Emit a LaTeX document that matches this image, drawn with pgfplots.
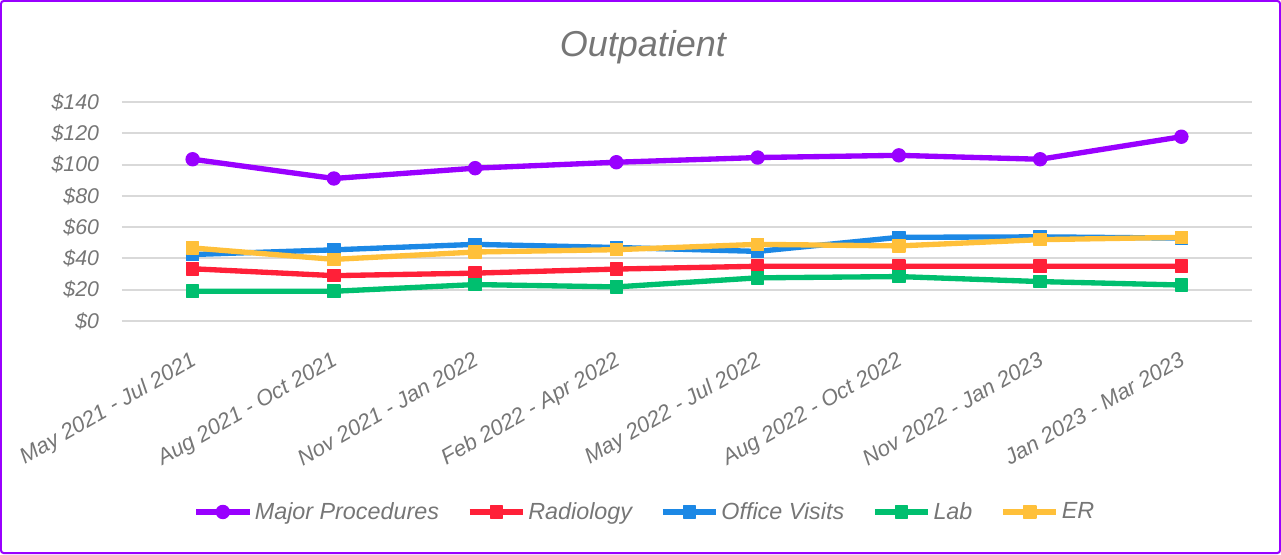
\documentclass[border=0pt]{standalone}
\usepackage{pgfplots}
\pgfplotsset{compat=1.18}
\usepackage{fontspec}
\setmainfont{Liberation Sans}
\definecolor{cMaj}{RGB}{153,0,255}
\definecolor{cRad}{RGB}{255,32,56}
\definecolor{cOff}{RGB}{28,136,229}
\definecolor{cLab}{RGB}{0,191,111}
\definecolor{cER}{RGB}{255,192,58}
\definecolor{txt}{RGB}{118,118,118}
\definecolor{grd}{RGB}{217,217,217}
\begin{document}
\begin{tikzpicture}[x=0.75pt,y=0.75pt]
\useasboundingbox (-122,-233) rectangle (1159,321);
\draw[cMaj, line width=1.5pt, rounded corners=2pt] (-121,-232) rectangle (1158,320);
\begin{axis}[
  at={(0,0)}, anchor=south west,
  scale only axis, width=847.5pt, height=164.25pt,
  xmin=-0.5, xmax=7.5, ymin=0, ymax=140,
  axis line style={draw=none},
  ymajorgrids, grid style={grd, line width=1.5pt},
  major tick length=0pt,
  ytick={0,20,...,140},
  yticklabels={{\$0},{\$20},{\$40},{\$60},{\$80},{\$100},{\$120},{\$140}},
  yticklabel style={font=\fontsize{16}{18}\selectfont\itshape, text=txt, anchor=east, inner sep=0pt, xshift=-17pt},
  xtick={0,...,7},
  xticklabels={May 2021 - Jul 2021, Aug 2021 - Oct 2021, Nov 2021 - Jan 2022, Feb 2022 - Apr 2022, May 2022 - Jul 2022, Aug 2022 - Oct 2022, Nov 2022 - Jan 2023, Jan 2023 - Mar 2023},
  xticklabel style={font=\fontsize{16.5}{18}\selectfont\itshape, text=txt, rotate=30, anchor=north east, inner sep=0pt, yshift=-18pt, xshift=-13pt},
  clip=false,
  legend columns=5,
  legend style={at={(0.463,-0.872)}, anchor=center, draw=none, fill=none,
    font=\fontsize{17.5}{20}\selectfont\itshape, text=txt,
    /tikz/every even column/.append style={column sep=19pt}},
  legend image code/.code={\draw[#1, mark repeat=2, mark phase=2] plot coordinates {(0pt,0pt) (20pt,0pt) (40pt,0pt)};},
  every axis plot/.append style={line width=4pt, line join=round},
]
\addplot[cMaj, mark=*, mark size=4.9pt, mark options={solid, line width=1pt}] coordinates {(0,103.4) (1,91.1) (2,97.7) (3,101.5) (4,104.5) (5,105.9) (6,103.4) (7,117.8)};
\addlegendentry{Major Procedures}
\addplot[cRad, mark=square*, mark size=4.6pt, mark options={line width=1pt}] coordinates {(0,33.4) (1,29) (2,30.6) (3,33.2) (4,35) (5,35) (6,35) (7,35)};
\addlegendentry{Radiology}
\addplot[cOff, mark=square*, mark size=4.6pt, mark options={line width=1pt}] coordinates {(0,42.5) (1,45.5) (2,49) (3,47) (4,44.5) (5,53.5) (6,53.8) (7,53)};
\addlegendentry{Office Visits}
\addplot[cLab, mark=square*, mark size=4.6pt, mark options={line width=1pt}] coordinates {(0,19) (1,19) (2,23.3) (3,21.8) (4,27.6) (5,28.4) (6,25.2) (7,23)};
\addlegendentry{Lab}
\addplot[cER, mark=square*, mark size=4.6pt, mark options={line width=1pt}] coordinates {(0,46.7) (1,39.4) (2,44.1) (3,45.6) (4,49) (5,48) (6,52) (7,53.5)};
\addlegendentry{ER}
\node[font=\fontsize{27}{30}\selectfont\itshape, text=txt] at (axis description cs:0.461,1.25) {Outpatient};
\end{axis}
\end{tikzpicture}
\end{document}
